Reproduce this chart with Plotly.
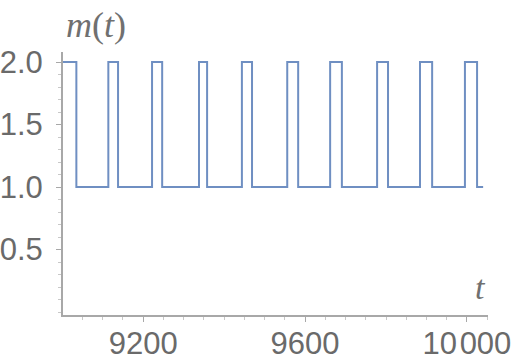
import plotly.graph_objects as go

# switching times of m(t)
t_start = 9000
t_end = 10040
falls = [9035, 9138, 9247, 9358, 9469, 9583, 9691, 9805, 9914, 10025]
rises = [9114, 9222, 9338, 9444, 9556, 9662, 9778, 9884, 9995]
high_value = 2.0
low_value = 1.0

x_tickvals = [9200, 9600, 10000]
x_ticktext = ["9200", "9600", "10\u200a000"]
y_tickvals = [0.5, 1.0, 1.5, 2.0]
y_ticktext = ["0.5", "1.0", "1.5", "2.0"]

# build step series (hv shape)
t = [t_start]
m = [high_value]
for i, f in enumerate(falls):
    t.append(f)
    m.append(low_value)
    if i < len(rises):
        t.append(rises[i])
        m.append(high_value)
t.append(t_end)
m.append(low_value)

fig = go.Figure()
fig.add_trace(go.Scatter(x=t, y=m, mode="lines", line_shape="hv",
                         line=dict(color="#6f8fc2", width=2)))

axis_color = "#a8a8a8"
tick_font = dict(family="Liberation Sans, Arial, sans-serif", size=31, color="#6a6a6a")

fig.update_layout(
    width=512, height=361,
    margin=dict(l=63, r=24, t=52, b=46),
    paper_bgcolor="white", plot_bgcolor="white",
    showlegend=False,
    xaxis=dict(range=[9002, 10052], showgrid=False, zeroline=False, automargin=False,
               showline=True, linecolor=axis_color, linewidth=2,
               tickmode="array", tickvals=x_tickvals, ticktext=x_ticktext,
               ticks="outside", ticklen=5, tickcolor=axis_color, tickwidth=1,
               tickfont=tick_font, ticklabelstandoff=-5, ticklabeloverflow="allow",
               minor=dict(dtick=50, tick0=9000, ticks="outside", ticklen=3,
                          tickcolor="#c8c8c8", showgrid=False)),
    yaxis=dict(range=[-0.024, 2.08], showgrid=False, zeroline=False, automargin=False,
               showline=True, linecolor=axis_color, linewidth=2,
               tickmode="array", tickvals=y_tickvals, ticktext=y_ticktext,
               ticks="outside", ticklen=5, tickcolor=axis_color, tickwidth=1,
               tickfont=tick_font, ticklabelstandoff=7, ticklabeloverflow="allow",
               minor=dict(dtick=0.1, tick0=0, ticks="outside", ticklen=3,
                          tickcolor="#c8c8c8", showgrid=False)),
    annotations=[
        dict(text="<i>m</i>(<i>t</i>)", xref="paper", yref="paper",
             x=0.078, y=1.103, showarrow=False, xanchor="center", yanchor="middle",
             font=dict(family="Liberation Serif, Times New Roman, serif", size=36, color="#707070")),
        dict(text="<i>t</i>", xref="paper", yref="paper",
             x=0.983, y=0.103, showarrow=False, xanchor="center", yanchor="middle",
             font=dict(family="Liberation Serif, Times New Roman, serif", size=34, color="#707070")),
    ],
)

fig.write_html("out.html")
